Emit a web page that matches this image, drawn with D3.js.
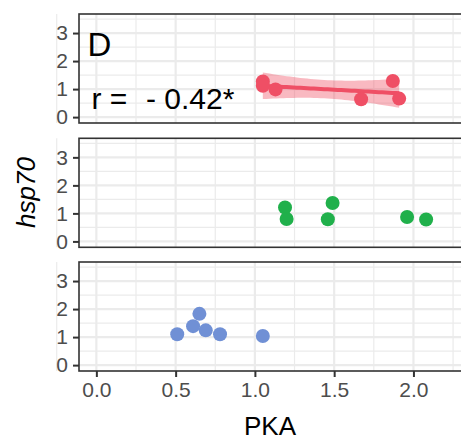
<!DOCTYPE html>
<html>
<head>
<meta charset="utf-8">
<script src="https://cdn.jsdelivr.net/npm/d3@7"></script>
<style>
  body { margin: 0; background: #fff; }
  svg text { font-family: "Liberation Sans", Arial, sans-serif; }
</style>
</head>
<body>
<div id="chart"></div>
<script>
// data (PKA on x, hsp70 on y), one group per panel
const redPKA   = [1.05, 1.05, 1.13, 1.67, 1.87, 1.91];
const redHsp   = [1.27, 1.12, 0.99, 0.64, 1.29, 0.66];
const greenPKA = [1.19, 1.20, 1.49, 1.46, 1.96, 2.08];
const greenHsp = [1.21, 0.80, 1.37, 0.79, 0.87, 0.78];
const bluePKA  = [0.51, 0.61, 0.65, 0.69, 0.78, 1.05];
const blueHsp  = [1.10, 1.39, 1.83, 1.24, 1.10, 1.04];

const xTicks = [0, 0.5, 1, 1.5, 2];
const yTicks = [0, 1, 2, 3];
const panelLabel = "D";
const corrLabel = ["r =", "- 0.42*"];

const width = 461, height = 443;
const left = 79, right = 463;
const panelH = 109;
const tops = [14, 138.3, 262];

const panels = [
  {x: redPKA, y: redHsp, color: "#ef4f65", fit: true},
  {x: greenPKA, y: greenHsp, color: "#20b04b", fit: false},
  {x: bluePKA, y: blueHsp, color: "#7090d5", fit: false}
];

const svg = d3.select("#chart").append("svg")
    .attr("width", width).attr("height", height);

const x = d3.scaleLinear().domain([-0.1095, 2.3]).range([left, 461]);

// linear fit + 95% band, like geom_smooth(method = "lm")
function lmBand(xs, ys) {
  const n = xs.length;
  const mx = d3.mean(xs), my = d3.mean(ys);
  let sxx = 0, sxy = 0;
  xs.forEach((v, i) => { sxx += (v - mx) ** 2; sxy += (v - mx) * (ys[i] - my); });
  const b = sxy / sxx, a = my - b * mx;
  let sse = 0;
  xs.forEach((v, i) => { sse += (ys[i] - a - b * v) ** 2; });
  const s = Math.sqrt(sse / (n - 2));
  const t = 2.776; // t(0.975, df = 4)
  const [x0, x1] = d3.extent(xs);
  return d3.range(0, 41).map(k => {
    const xv = x0 + (x1 - x0) * k / 40;
    const fit = a + b * xv;
    const se = s * Math.sqrt(1 / n + (xv - mx) ** 2 / sxx);
    return {x: xv, fit: fit, lo: fit - t * se, hi: fit + t * se};
  });
}

panels.forEach((p, i) => {
  const top = tops[i];
  const y = d3.scaleLinear().domain([-0.21, 3.68]).range([top + panelH, top]);
  const g = svg.append("g");

  g.append("rect").attr("x", left).attr("y", top)
    .attr("width", right - left).attr("height", panelH).attr("fill", "#fff");

  // minor grid
  g.selectAll(".mx").data(d3.range(-0.25, 2.3, 0.5)).join("line")
    .attr("x1", d => x(d)).attr("x2", d => x(d))
    .attr("y1", top).attr("y2", top + panelH)
    .attr("stroke", "#ebebeb").attr("stroke-width", 1.2);
  g.selectAll(".my").data([0.5, 1.5, 2.5, 3.5]).join("line")
    .attr("x1", left).attr("x2", right)
    .attr("y1", d => y(d)).attr("y2", d => y(d))
    .attr("stroke", "#ebebeb").attr("stroke-width", 1.2);
  // major grid
  g.selectAll(".Mx").data(xTicks).join("line")
    .attr("x1", d => x(d)).attr("x2", d => x(d))
    .attr("y1", top).attr("y2", top + panelH)
    .attr("stroke", "#ebebeb").attr("stroke-width", 2.2);
  g.selectAll(".My").data(yTicks).join("line")
    .attr("x1", left).attr("x2", right)
    .attr("y1", d => y(d)).attr("y2", d => y(d))
    .attr("stroke", "#ebebeb").attr("stroke-width", 2.2);

  if (p.fit) {
    const band = lmBand(p.x, p.y);
    g.append("path").datum(band)
      .attr("fill", p.color).attr("fill-opacity", 0.4)
      .attr("d", d3.area().x(d => x(d.x)).y0(d => y(d.lo)).y1(d => y(d.hi)));
    g.append("path").datum(band)
      .attr("fill", "none").attr("stroke", p.color).attr("stroke-width", 4)
      .attr("d", d3.line().x(d => x(d.x)).y(d => y(d.fit)));
  }

  g.selectAll("circle").data(p.x).join("circle")
    .attr("cx", d => x(d)).attr("cy", (d, j) => y(p.y[j]))
    .attr("r", 7).attr("fill", p.color);

  // panel border
  g.append("rect").attr("x", left).attr("y", top)
    .attr("width", right - left).attr("height", panelH)
    .attr("fill", "none").attr("stroke", "#333").attr("stroke-width", 1.6);

  // y axis
  const ya = g.append("g").attr("transform", `translate(${left},0)`)
    .call(d3.axisLeft(y).tickValues(yTicks).tickSize(6).tickPadding(5).tickFormat(d3.format("d")));
  ya.select(".domain").remove();
  ya.selectAll(".tick line").attr("stroke", "#333").attr("stroke-width", 2);
  ya.selectAll(".tick text").attr("fill", "#4d4d4d").style("font-size", "21px")
    .style("font-family", "Liberation Sans, Arial, sans-serif");

  if (i === panels.length - 1) {
    const xa = g.append("g").attr("transform", `translate(0,${top + panelH})`)
      .call(d3.axisBottom(x).tickValues(xTicks).tickSize(6).tickPadding(5).tickFormat(d3.format(".1f")));
    xa.select(".domain").remove();
    xa.selectAll(".tick line").attr("stroke", "#333").attr("stroke-width", 2);
    xa.selectAll(".tick text").attr("fill", "#4d4d4d").style("font-size", "21px")
      .style("font-family", "Liberation Sans, Arial, sans-serif");
  }
});

// panel letter and correlation
svg.append("text").attr("x", 87.5).attr("y", 55.5)
  .style("font-size", "33px").text(panelLabel);
svg.append("text").attr("x", 91.5).attr("y", 109)
  .style("font-size", "30px").text(corrLabel[0]);
svg.append("text").attr("x", 146).attr("y", 109)
  .style("font-size", "30px").text(corrLabel[1]);

// axis titles
svg.append("text").attr("x", 270).attr("y", 435)
  .attr("text-anchor", "middle").style("font-size", "26px").text("PKA");
svg.append("text")
  .attr("transform", "translate(34.5,192.5) rotate(-90)")
  .attr("text-anchor", "middle").style("font-size", "26px")
  .style("font-style", "italic").text("hsp70");
</script>
</body>
</html>
